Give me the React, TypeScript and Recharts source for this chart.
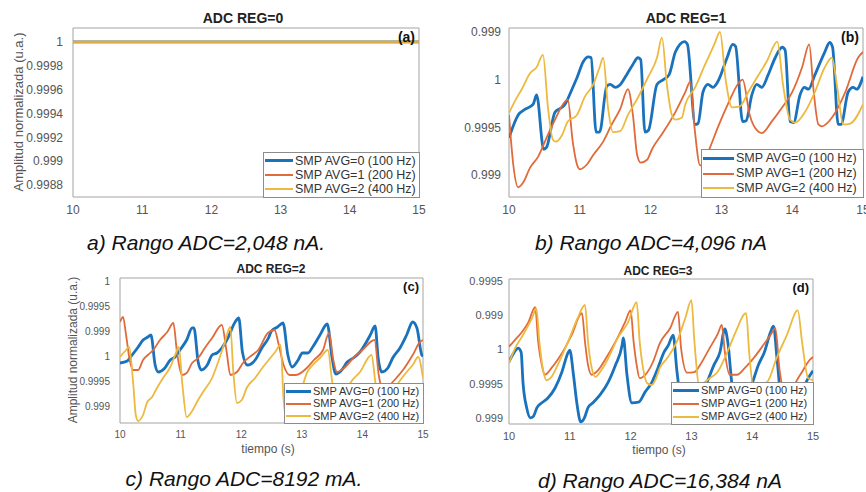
import { LineChart, Line, XAxis, YAxis, ReferenceArea } from 'recharts'

const FONT = "'Liberation Sans', Arial, sans-serif"
const COLORS = ['#1a72bd', '#e06a3a', '#edb93e']
const WIDTHS = [2.8, 1.8, 1.8]
const LEGEND = ['SMP AVG=0 (100 Hz)', 'SMP AVG=1 (200 Hz)', 'SMP AVG=2 (400 Hz)']
const X_TICKS = [10, 11, 12, 13, 14, 15]

// (a) ADC REG=0 : flat at 1
const aT = [10, 15]
const aV0 = [1, 1]
const aV1 = [1, 1]
const aV2 = [1, 1]
const aTicks = [0.9988, 0.999, 0.9992, 0.9994, 0.9996, 0.9998, 1]
const aLabels = ['0.9988', '0.999', '0.9992', '0.9994', '0.9996', '0.9998', '1']

// (b) ADC REG=1
const bT0 = [10, 10.13, 10.23, 10.34, 10.39, 10.49, 10.53, 10.65, 10.75, 10.79, 10.89, 10.96, 11.05, 11.12, 11.16, 11.23, 11.28, 11.38, 11.43, 11.5, 11.56, 11.66, 11.75, 11.82, 11.86, 11.92, 11.97, 12.09, 12.18, 12.26, 12.35, 12.48, 12.52, 12.63, 12.67, 12.74, 12.81, 12.88, 12.95, 13.08, 13.16, 13.2, 13.3, 13.35, 13.43, 13.5, 13.57, 13.66, 13.76, 13.86, 13.9, 13.97, 14.02, 14.11, 14.17, 14.23, 14.32, 14.46, 14.53, 14.57, 14.65, 14.69, 14.79, 14.86, 14.91, 15]
const bV0 = [0.99939, 0.99963, 0.99969, 0.99974, 0.99984, 0.99927, 0.99929, 0.99966, 0.99971, 0.99974, 0.9999, 1.00002, 1.00019, 1.00024, 1.00023, 0.99945, 0.99945, 0.99993, 0.99995, 0.99992, 0.99994, 1.00005, 1.00016, 1.00023, 1.00021, 0.99945, 0.99947, 0.99995, 1.0, 1.00005, 1.00029, 1.0004, 1.00037, 0.99953, 0.99954, 0.99987, 0.99995, 0.99992, 0.99998, 1.00023, 1.00037, 1.00035, 0.99956, 0.99957, 0.99984, 0.99995, 0.99992, 1.00005, 1.00023, 1.00034, 1.00031, 0.99956, 0.99955, 0.99984, 0.99992, 0.9999, 1.00005, 1.00029, 1.00039, 1.00034, 0.99953, 0.99953, 0.99987, 0.99992, 0.9999, 1.00003]
const bT1 = [10, 10.06, 10.13, 10.2, 10.3, 10.41, 10.53, 10.65, 10.76, 10.83, 10.9, 10.96, 11, 11.1, 11.19, 11.33, 11.45, 11.57, 11.68, 11.75, 11.81, 11.86, 11.95, 12.02, 12.18, 12.35, 12.49, 12.56, 12.62, 12.7, 12.76, 12.84, 12.95, 13.09, 13.23, 13.3, 13.4, 13.5, 13.57, 13.71, 13.86, 14, 14.14, 14.24, 14.3, 14.37, 14.42, 14.56, 14.75, 14.93, 15]
const bV1 = [0.99963, 0.99911, 0.99887, 0.99892, 0.99908, 0.99919, 0.99939, 0.99958, 0.99974, 0.99979, 0.99935, 0.99911, 0.99906, 0.99911, 0.99921, 0.99935, 0.99953, 0.99969, 0.9999, 0.99963, 0.99921, 0.99913, 0.99916, 0.99927, 0.99945, 0.99966, 0.99987, 0.99998, 0.9995, 0.9991, 0.99915, 0.99929, 0.9995, 0.99974, 0.99995, 1.0, 0.99963, 0.99947, 0.99944, 0.99956, 0.99971, 0.99987, 1.00013, 1.00037, 0.9999, 0.99953, 0.99951, 0.9996, 0.99987, 1.00023, 1.00029]
const bT2 = [10, 10.08, 10.18, 10.3, 10.39, 10.48, 10.55, 10.62, 10.66, 10.75, 10.83, 10.96, 11.07, 11.19, 11.28, 11.33, 11.4, 11.47, 11.57, 11.68, 11.82, 11.96, 12.09, 12.16, 12.23, 12.3, 12.35, 12.44, 12.49, 12.63, 12.77, 12.9, 12.98, 13.06, 13.15, 13.26, 13.38, 13.5, 13.64, 13.79, 13.87, 13.97, 14.04, 14.18, 14.32, 14.46, 14.56, 14.64, 14.72, 14.82, 15]
const bV2 = [0.99965, 0.99977, 0.9999, 1.00007, 1.00013, 1.00026, 0.99971, 0.99937, 0.99935, 0.99942, 0.99956, 0.99963, 0.99982, 0.99995, 1.00013, 1.00023, 0.9997, 0.99945, 0.99946, 0.99963, 0.99981, 1.00002, 1.00023, 1.00044, 0.99995, 0.99963, 0.99958, 0.9996, 0.99974, 0.99992, 1.00016, 1.00037, 1.0005, 1.0, 0.99971, 0.99972, 0.99987, 1.00002, 1.00019, 1.0004, 0.99995, 0.99958, 0.99955, 0.99966, 0.99987, 1.00013, 1.00023, 0.9999, 0.99953, 0.99954, 0.99974]
const bTicks = [0.999, 0.9995, 1, 1.0005]
const bLabels = ['0.999', '0.9995', '1', '0.999']

// (c) ADC REG=2
const cT0 = [10, 10.12, 10.2, 10.3, 10.38, 10.46, 10.51, 10.58, 10.63, 10.74, 10.83, 10.91, 10.99, 11.1, 11.19, 11.22, 11.29, 11.34, 11.44, 11.52, 11.6, 11.68, 11.78, 11.9, 11.96, 12.02, 12.1, 12.23, 12.34, 12.45, 12.5, 12.6, 12.69, 12.77, 12.84, 12.94, 13.01, 13.1, 13.18, 13.3, 13.42, 13.5, 13.56, 13.66, 13.75, 13.85, 13.96, 14.13, 14.21, 14.26, 14.32, 14.42, 14.5, 14.62, 14.73, 14.83, 14.9, 14.98, 15]
const cV0 = [0.99986, 0.9999, 1.00002, 1.00018, 1.00032, 1.00038, 1.00042, 0.99982, 0.99968, 0.99976, 0.99992, 0.99998, 1.00012, 1.00032, 1.00056, 1.00056, 0.99988, 0.99972, 0.99982, 1.00002, 1.00006, 1.00016, 1.00036, 1.00068, 1.00076, 1.00008, 0.99982, 0.99992, 1.00016, 1.00036, 1.0005, 1.00058, 1.00066, 1.00002, 0.99978, 0.99992, 1.00006, 1.00006, 1.00018, 1.00042, 1.00064, 0.99996, 0.99964, 0.99972, 0.99988, 0.99996, 1.00008, 1.00042, 1.0006, 0.99996, 0.99968, 0.99976, 0.99996, 1.00016, 1.00042, 1.00068, 1.00056, 1.00002, 1.0]
const cT1 = [10, 10.05, 10.1, 10.16, 10.22, 10.3, 10.38, 10.46, 10.55, 10.66, 10.78, 10.88, 10.94, 11.02, 11.1, 11.19, 11.29, 11.4, 11.52, 11.68, 11.76, 11.82, 11.93, 12.03, 12.18, 12.28, 12.44, 12.55, 12.62, 12.7, 12.8, 12.9, 13.1, 13.2, 13.35, 13.45, 13.52, 13.58, 13.7, 13.85, 14, 14.2, 14.27, 14.35, 14.5, 14.67, 14.83, 14.95, 15]
const cV1 = [1.00068, 1.00078, 1.00042, 0.99992, 0.99972, 0.99972, 0.99992, 1.00002, 1.00012, 1.00032, 1.00048, 1.00066, 1.00008, 0.99962, 0.99966, 0.99986, 0.99996, 1.00016, 1.00036, 1.00062, 1.00008, 0.99962, 0.99968, 0.99986, 1.00002, 1.00012, 1.00046, 1.00052, 1.00022, 0.99982, 0.99962, 0.99962, 0.99978, 0.99992, 1.00012, 1.00046, 0.99992, 0.99968, 0.99976, 0.99996, 1.00012, 1.00032, 0.99962, 0.99928, 0.99948, 0.99972, 1.00002, 1.00028, 1.00032]
const cT2 = [10, 10.1, 10.15, 10.22, 10.26, 10.3, 10.38, 10.45, 10.53, 10.61, 10.71, 10.83, 10.91, 10.97, 11.03, 11.1, 11.18, 11.27, 11.37, 11.52, 11.62, 11.73, 11.82, 11.87, 11.93, 12.01, 12.09, 12.23, 12.36, 12.48, 12.56, 12.65, 12.7, 12.78, 12.95, 13.09, 13.18, 13.3, 13.43, 13.5, 13.6, 13.8, 13.96, 14.15, 14.22, 14.35, 14.57, 14.73, 14.83, 14.92, 15]
const cV2 = [0.99998, 1.00012, 1.00018, 0.99942, 0.99882, 0.9987, 0.99882, 0.99908, 0.99918, 0.99936, 0.99956, 0.99978, 1.00002, 1.00018, 0.99942, 0.99878, 0.99888, 0.99908, 0.99928, 0.99956, 0.99988, 1.00028, 1.00058, 0.99968, 0.99906, 0.99912, 0.99936, 0.99956, 0.99978, 0.99996, 1.00008, 1.00022, 0.99912, 0.99856, 0.99912, 0.99968, 0.99982, 0.99996, 1.00012, 0.9995, 0.99888, 0.99946, 0.99968, 1.00002, 0.99942, 0.99892, 0.99942, 0.99968, 0.99982, 0.99998, 0.99956]
const cTicks = [0.999, 0.9995, 1, 1.0005, 1.001, 1.0015]
const cLabels = ['0.999', '0.9995', '1', '0.999', '0.9995', '1']

// (d) ADC REG=3
const dT0 = [10, 10.08, 10.15, 10.2, 10.23, 10.29, 10.35, 10.4, 10.46, 10.54, 10.64, 10.76, 10.87, 10.97, 11, 11.06, 11.12, 11.18, 11.24, 11.3, 11.38, 11.5, 11.63, 11.75, 11.86, 11.88, 11.94, 12.02, 12.13, 12.24, 12.35, 12.45, 12.55, 12.62, 12.7, 12.76, 12.85, 12.95, 13.1, 13.26, 13.37, 13.47, 13.55, 13.6, 13.68, 13.85, 14.01, 14.1, 14.2, 14.3, 14.35, 14.41, 14.5, 14.75, 14.92, 15]
const dV0 = [0.99982, 0.99995, 1.00002, 0.99996, 0.99952, 0.99915, 0.999, 0.99902, 0.99915, 0.99922, 0.99929, 0.99944, 0.99967, 0.99995, 0.99999, 0.99963, 0.99919, 0.99894, 0.999, 0.99915, 0.99922, 0.99934, 0.99952, 0.99977, 1.00006, 1.00017, 0.99963, 0.99922, 0.99923, 0.99938, 0.99952, 0.99973, 0.99996, 1.00006, 1.00021, 0.9997, 0.99912, 0.99897, 0.99926, 0.99953, 0.99977, 0.99996, 1.0003, 1.0001, 0.99941, 0.99912, 0.99953, 0.99977, 0.99996, 1.00025, 1.00034, 0.99985, 0.99912, 0.99926, 0.99958, 0.99969]
const dT1 = [10, 10.1, 10.2, 10.32, 10.43, 10.48, 10.54, 10.59, 10.7, 10.8, 10.92, 11.03, 11.2, 11.25, 11.3, 11.36, 11.47, 11.58, 11.75, 11.91, 12, 12.05, 12.1, 12.15, 12.27, 12.37, 12.48, 12.65, 12.78, 12.83, 12.93, 13.05, 13.14, 13.3, 13.44, 13.5, 13.55, 13.63, 13.75, 13.88, 14.02, 14.18, 14.3, 14.38, 14.45, 14.55, 14.79, 14.95, 15]
const dV1 = [1.00004, 1.00014, 1.00024, 1.0004, 1.00062, 1.00011, 0.99977, 0.99963, 0.99973, 0.99985, 1.00002, 1.00021, 1.00053, 1.00011, 0.99977, 0.99963, 0.9997, 0.99985, 1.00011, 1.0004, 1.00057, 1.00011, 0.99977, 0.99958, 0.99966, 0.99982, 1.00009, 1.00031, 1.00055, 1.00002, 0.99966, 0.99967, 0.99977, 1.00002, 1.00024, 1.00036, 0.99996, 0.99963, 0.99963, 0.99973, 0.99987, 1.00006, 1.00021, 1.00031, 0.9997, 0.99934, 0.99963, 0.99985, 0.99989]
const dT2 = [10, 10.1, 10.23, 10.38, 10.45, 10.5, 10.56, 10.62, 10.7, 10.8, 10.97, 11.13, 11.25, 11.3, 11.36, 11.42, 11.52, 11.62, 11.79, 11.96, 12.1, 12.15, 12.21, 12.27, 12.35, 12.42, 12.48, 12.6, 12.76, 12.9, 13, 13.05, 13.13, 13.3, 13.43, 13.59, 13.72, 13.9, 13.95, 14.02, 14.25, 14.4, 14.57, 14.75, 14.82, 14.92, 15]
const dV2 = [0.9998, 1.00002, 1.00021, 1.00046, 1.0006, 1.00011, 0.9997, 0.99955, 0.9996, 0.99977, 1.00011, 1.00046, 1.00065, 1.00011, 0.99973, 0.9996, 0.9997, 0.99985, 1.00017, 1.0004, 1.00069, 1.00011, 0.9997, 0.99951, 0.99948, 0.99958, 0.99973, 0.99987, 1.00011, 1.00046, 1.00072, 1.00011, 0.99948, 0.99958, 0.99967, 0.99996, 1.00024, 1.00053, 0.99996, 0.99945, 0.99953, 0.99987, 1.00021, 1.00057, 1.00011, 0.99958, 0.99955]
const dTicks = [0.999, 0.9995, 1, 1.0005, 1.001]
const dLabels = ['0.999', '0.9995', '1', '0.999', '0.9995']

const zip = (ts: number[], vs: number[]) => ts.map((t, i) => ({ t, v: vs[i] }))

type Box = { left: number; top: number; width: number; height: number }

const Txt = ({ x, y, size, children, bold, italic, color = '#222', rotate }: any) => (
  <div
    style={{
      position: 'absolute', left: x, top: y, fontFamily: FONT, fontSize: size, whiteSpace: 'nowrap',
      fontWeight: bold ? 'bold' : 'normal', fontStyle: italic ? 'italic' : 'normal', color, lineHeight: 1,
      transform: `translate(-50%, -50%)${rotate ? ` rotate(${rotate}deg)` : ''}`,
    }}
  >
    {children}
  </div>
)

const LegendBox = ({ left, top, width, height, fontSize, lineLen }: Box & { fontSize: number; lineLen: number }) => (
  <div
    style={{
      position: 'absolute', left, top, width, height, boxSizing: 'border-box', background: '#fff',
      border: '1px solid #8c8c8c', display: 'flex', flexDirection: 'column', justifyContent: 'space-evenly',
      fontFamily: FONT, fontSize, color: '#333',
    }}
  >
    {LEGEND.map((name, i) => (
      <div key={name} style={{ display: 'flex', alignItems: 'center', whiteSpace: 'nowrap', lineHeight: 1 }}>
        <span style={{ display: 'inline-block', width: lineLen, marginLeft: 1, marginRight: 2, height: i === 0 ? 3 : 2, background: COLORS[i] }} />
        {name}
      </div>
    ))}
  </div>
)

type PanelProps = Box & {
  margin: { top: number; right: number; bottom: number; left: number }
  yWidth: number
  domain: [number, number]
  yTicks: number[]
  yLabels: string[]
  series: { t: number[]; v: number[] }[]
  tag: string
  tickFont: number
  tagFont: number
  yGap: number
  topOpacity?: number
}

const Panel = (p: PanelProps) => {
  const fmt = (v: number) => p.yLabels[p.yTicks.findIndex(t => Math.abs(t - v) < 1e-7)] ?? ''
  return (
    <div style={{ position: 'absolute', left: p.left, top: p.top }}>
      <LineChart width={p.width} height={p.height} margin={p.margin}>
        <XAxis
          type="number" dataKey="t" domain={[10, 15]} ticks={X_TICKS} interval={0} allowDataOverflow
          height={20} axisLine={false} tickLine={false} tickSize={4} tickMargin={4}
          tick={{ fontSize: p.tickFont, fill: '#555', fontFamily: FONT }}
        />
        <YAxis
          type="number" domain={p.domain} ticks={p.yTicks} interval={0} allowDataOverflow
          width={p.yWidth} axisLine={false} tickLine={false} tickSize={4} tickMargin={p.yGap}
          tickFormatter={fmt} tick={{ fontSize: p.tickFont, fill: '#555', fontFamily: FONT }}
        />
        {p.series.map((s, i) => (
          <Line
            key={i} data={zip(s.t, s.v)} dataKey="v" type="monotone" stroke={COLORS[i]}
            strokeWidth={p.topOpacity && i === 2 ? 3 : WIDTHS[i]}
            strokeOpacity={p.topOpacity && i === 2 ? p.topOpacity : 1}
            dot={false} activeDot={false} isAnimationActive={false}
          />
        ))}
        <ReferenceArea
          x1={10} x2={15} y1={p.domain[0]} y2={p.domain[1]} fill="none" stroke="#a3a3a3" strokeWidth={1}
          label={{ value: p.tag, position: 'insideTopRight', offset: 4, fontSize: p.tagFont, fontWeight: 'bold', fill: '#111', fontFamily: FONT }}
        />
      </LineChart>
    </div>
  )
}

export default function App() {
  return (
    <div style={{ position: 'absolute', left: 0, top: 0, width: 866, height: 492, background: '#fff', overflow: 'hidden' }}>
      <Panel
        left={0} top={0} width={433} height={230} margin={{ top: 28, right: 14, bottom: 13, left: 0 }} yWidth={73}
        domain={[0.9987, 1.000117]} yTicks={aTicks} yLabels={aLabels} tag="(a)" tickFont={12} tagFont={14} yGap={6}
        series={[{ t: aT, v: aV0 }, { t: aT, v: aV1 }, { t: aT, v: aV2 }]} topOpacity={0.8}
      />
      <Panel
        left={433} top={0} width={433} height={230} margin={{ top: 28, right: 3, bottom: 13, left: 0 }} yWidth={76}
        domain={[0.998769, 1.000542]} yTicks={bTicks} yLabels={bLabels} tag="(b)" tickFont={12} tagFont={14} yGap={4}
        series={[{ t: bT0, v: bV0 }, { t: bT1, v: bV1 }, { t: bT2, v: bV2 }]}
      />
      <Panel
        left={0} top={250} width={433} height={242} margin={{ top: 28, right: 10, bottom: 49, left: 0 }} yWidth={120}
        domain={[0.99866, 1.00156]} yTicks={cTicks} yLabels={cLabels} tag="(c)" tickFont={10} tagFont={13} yGap={6}
        series={[{ t: cT0, v: cV0 }, { t: cT1, v: cV1 }, { t: cT2, v: cV2 }]}
      />
      <Panel
        left={433} top={250} width={433} height={242} margin={{ top: 29, right: 53, bottom: 48, left: 0 }} yWidth={76}
        domain={[0.99891, 1.00103]} yTicks={dTicks} yLabels={dLabels} tag="(d)" tickFont={11} tagFont={13} yGap={2}
        series={[{ t: dT0, v: dV0 }, { t: dT1, v: dV1 }, { t: dT2, v: dV2 }]}
      />

      <LegendBox left={263} top={152} width={157} height={46} fontSize={12.5} lineLen={28} />
      <LegendBox left={701} top={149} width={163} height={49} fontSize={12.5} lineLen={31} />
      <LegendBox left={284} top={383} width={140} height={41} fontSize={11} lineLen={25} />
      <LegendBox left={671} top={382} width={143} height={43} fontSize={11} lineLen={26} />

      <Txt x={243} y={18} size={14} bold>ADC REG=0</Txt>
      <Txt x={686} y={18} size={14} bold>ADC REG=1</Txt>
      <Txt x={271} y={269} size={12} bold>ADC REG=2</Txt>
      <Txt x={658} y={271} size={12} bold>ADC REG=3</Txt>

      <Txt x={18} y={112} size={13} color="#555" rotate={-90}>Amplitud normalizada (u.a.)</Txt>
      <Txt x={73} y={350} size={12} color="#555" rotate={-90}>Amplitud normalizada (u.a.)</Txt>
      <Txt x={268} y={449} size={12} color="#555">tiempo (s)</Txt>
      <Txt x={659} y={450} size={12} color="#555">tiempo (s)</Txt>

      <Txt x={206} y={242} size={21} italic color="#111">a) Rango ADC=2,048 nA.</Txt>
      <Txt x={651} y={242} size={21} italic color="#111">b) Rango ADC=4,096 nA</Txt>
      <Txt x={244} y={478} size={21} italic color="#111">c) Rango ADC=8192 mA.</Txt>
      <Txt x={660} y={480} size={21} italic color="#111">d) Rango ADC=16,384 nA</Txt>
    </div>
  )
}
